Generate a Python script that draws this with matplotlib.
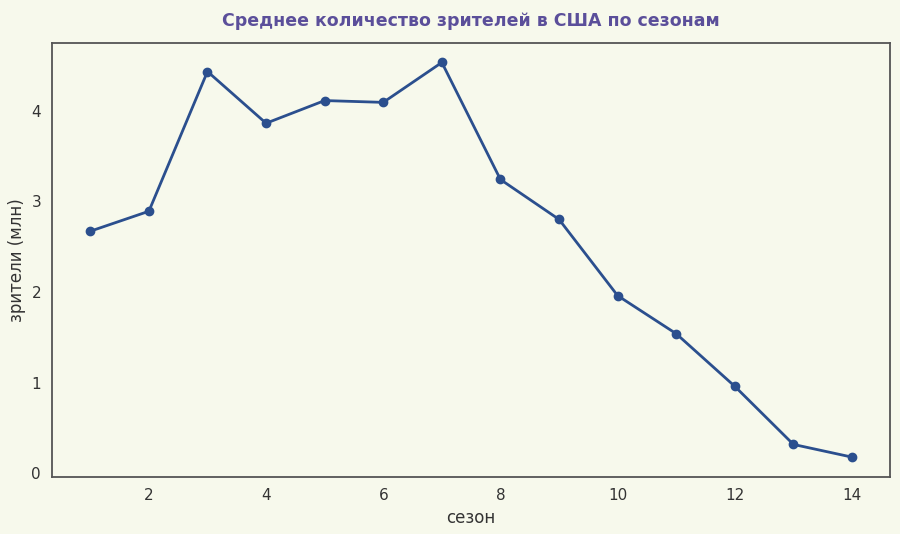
import matplotlib.pyplot as plt

seasons = [1, 2, 3, 4, 5, 6, 7, 8, 9, 10, 11, 12, 13, 14]
viewers = [2.67, 2.89, 4.43, 3.86, 4.11, 4.09, 4.53, 3.24, 2.80, 1.96, 1.54, 0.96, 0.32, 0.18]

bg = '#f7f9ec'
text_col = '#333333'

fig, ax = plt.subplots(figsize=(9, 5.34), dpi=100)
fig.patch.set_facecolor(bg)
ax.set_facecolor(bg)

ax.plot(seasons, viewers, color='#2b4f8e', linewidth=2, marker='o', markersize=6)

ax.set_xticks([2, 4, 6, 8, 10, 12, 14])
ax.set_yticks([0, 1, 2, 3, 4])
ax.tick_params(length=0, labelsize=11, labelcolor=text_col, pad=8)
for s in ax.spines.values():
    s.set_color('#555555')
    s.set_linewidth(1.3)

ax.set_xlabel('сезон', fontsize=12, color=text_col)
ax.set_ylabel('зрители (млн)', fontsize=12, color=text_col)
ax.set_title('Среднее количество зрителей в США по сезонам', fontsize=12.5,
             fontweight='heavy', color='#5b4f9a', pad=12, family='DejaVu Sans')

fig.subplots_adjust(left=0.058, right=0.989, top=0.92, bottom=0.107)
fig.savefig('out.png', facecolor=bg)
